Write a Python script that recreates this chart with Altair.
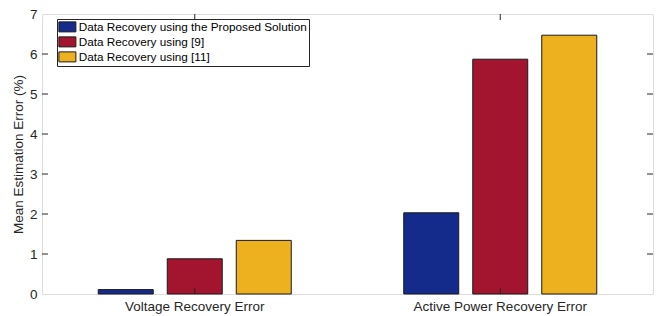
import altair as alt
import pandas as pd

categories = ["Voltage Recovery Error", "Active Power Recovery Error"]
series = [
    "Data Recovery using the Proposed Solution",
    "Data Recovery using [9]",
    "Data Recovery using [11]",
]
proposed = [0.11, 2.03]
ref9 = [0.88, 5.87]
ref11 = [1.34, 6.47]
colors = ["#142B8C", "#A3152F", "#EDB120"]
y_ticks = [1, 2, 3, 4, 5, 6]

rows = []
for s, vals in zip(series, [proposed, ref9, ref11]):
    for c, v in zip(categories, vals):
        rows.append({"cat": c, "series": s, "value": v})
df = pd.DataFrame(rows)
ticks_df = pd.DataFrame({"t": y_ticks})
cat_df = pd.DataFrame({"cat": categories})

W, H = 611, 280
AX = "#262626"
FONT = "Liberation Sans"

xscale = alt.Scale(domain=categories, paddingInner=0, paddingOuter=0)
yscale = alt.Scale(domain=[0, 7], nice=False)

x_axis = alt.Axis(title=None, domain=False, ticks=False, labelPadding=5,
                  labelAngle=0, labelFontSize=13.5, labelColor=AX, labelFont=FONT)
y_axis = alt.Axis(title="Mean Estimation Error (%)", values=list(range(8)),
                  domain=False, ticks=False, grid=False, labelPadding=5,
                  labelOverlap=False,
                  labelFontSize=13.5, labelColor=AX, labelFont=FONT,
                  titleFontSize=13.5, titleFontWeight="normal", titleColor=AX,
                  titleFont=FONT, titlePadding=4)

bars = alt.Chart(df).mark_bar(stroke="#1a1a1a", strokeWidth=1).encode(
    x=alt.X("cat:N", sort=categories, scale=xscale, axis=x_axis),
    xOffset=alt.XOffset("series:N", sort=series,
                        scale=alt.Scale(domain=series, paddingInner=0.203, paddingOuter=0.815)),
    y=alt.Y("value:Q", scale=yscale, axis=y_axis),
    color=alt.Color("series:N", sort=series,
                    scale=alt.Scale(domain=series, range=colors),
                    legend=alt.Legend(title=None, orient="none", legendX=15, legendY=5,
                                      fillColor="white", strokeColor=AX, padding=2,
                                      symbolType="M-1.7,-1H1.7V1H-1.7Z", symbolSize=100,
                                      symbolOffset=2.5,
                                      symbolStrokeColor="#1a1a1a", symbolStrokeWidth=1,
                                      symbolOpacity=1,
                                      labelFontSize=11.75, labelFont=FONT, labelColor="black",
                                      labelOffset=5.5, rowPadding=0, labelLimit=400)),
)

left_ticks = alt.Chart(ticks_df).mark_rule(color=AX, strokeWidth=1).encode(
    y=alt.Y("t:Q", scale=yscale, axis=y_axis), x=alt.value(0), x2=alt.value(6))
right_ticks = alt.Chart(ticks_df).mark_rule(color=AX, strokeWidth=1).encode(
    y=alt.Y("t:Q", scale=yscale, axis=y_axis), x=alt.value(W), x2=alt.value(W - 6))
bottom_ticks = alt.Chart(cat_df).mark_rule(color=AX, strokeWidth=1).encode(
    x=alt.X("cat:N", sort=categories, scale=xscale, axis=x_axis), y=alt.value(H), y2=alt.value(H - 6))
top_ticks = alt.Chart(cat_df).mark_rule(color=AX, strokeWidth=1).encode(
    x=alt.X("cat:N", sort=categories, scale=xscale, axis=x_axis), y=alt.value(0), y2=alt.value(6))

chart = alt.layer(bars, left_ticks, right_ticks, bottom_ticks, top_ticks).properties(
    width=W, height=H,
    autosize=alt.AutoSizeParams(type="none"),
    padding={"left": 34, "top": 6, "right": 3, "bottom": 20},
).configure_view(stroke=AX, strokeWidth=1).configure(background="white")

chart.save("out.html", embed_options={"renderer": "svg", "actions": False})
